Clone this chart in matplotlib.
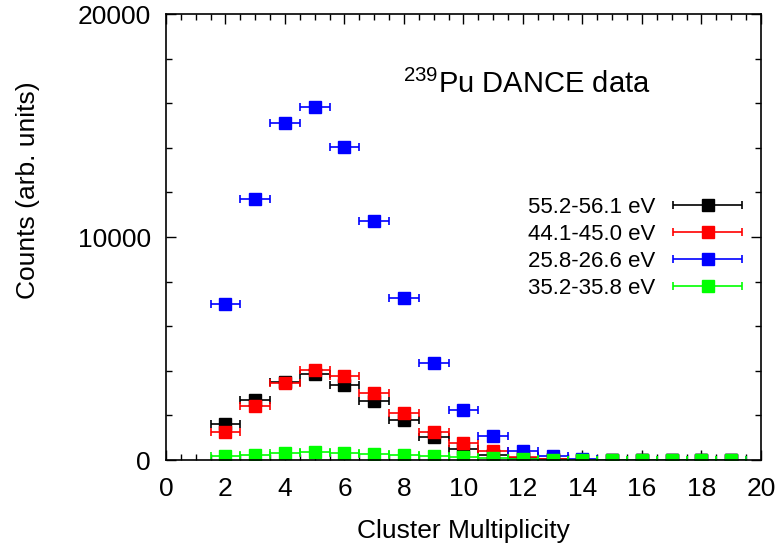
import matplotlib
matplotlib.use("Agg")
import matplotlib.pyplot as plt
from matplotlib.legend_handler import HandlerErrorbar
import numpy as np

plt.rcParams['font.family'] = ['Liberation Sans', 'DejaVu Sans']
plt.rcParams['mathtext.fontset'] = 'custom'
plt.rcParams['mathtext.rm'] = 'Liberation Sans'
plt.rcParams['mathtext.it'] = 'Liberation Sans:italic'

multiplicity = list(range(2, 20))
labels = ["55.2-56.1 eV", "44.1-45.0 eV", "25.8-26.6 eV", "35.2-35.8 eV"]
colors = ["#000000", "#ff0000", "#0000ff", "#00ff00"]
counts_55 = [1620, 2690, 3480, 3860, 3370, 2660, 1800, 1030, 490, 220, 100, 40, 10, 0, 0, 0, 0, 0]
counts_44 = [1260, 2420, 3470, 4040, 3780, 3020, 2100, 1260, 760, 400, 140, 50, 15, 0, 0, 0, 0, 0]
counts_25 = [7000, 11700, 15110, 15830, 14040, 10720, 7260, 4350, 2240, 1080, 400, 180, 50, 10, 0, 0, 0, 0]
counts_35 = [180, 224, 330, 370, 314, 290, 210, 165, 130, 80, 40, 20, 10, 5, 0, 0, 0, 0]
series = [counts_55, counts_44, counts_25, counts_35]
xerr_half = 0.5

fig = plt.figure(figsize=(7.77, 5.44), dpi=100)
ax = fig.add_axes([0.2136, 0.1544, 0.7658, 0.8198])

for vals, c, lab in zip(series, colors, labels):
    ax.errorbar(multiplicity, vals, xerr=xerr_half, fmt='s', color=c, ecolor=c,
                markersize=8, elinewidth=1.2, capsize=3, capthick=1.2, label=lab)

ax.set_xlim(0, 20)
ax.set_ylim(0, 20000)
ax.set_xticks(np.arange(0, 21, 2))
ax.set_yticks([0, 10000, 20000])
ax.set_xticks(np.arange(0, 20.01, 0.5), minor=True)
ax.set_yticks(np.arange(0, 20001, 2000), minor=True)
ax.tick_params(which='both', direction='in', top=True, right=True, labelsize=19, width=1)
ax.tick_params(which='major', length=7)
ax.tick_params(which='minor', length=4)
ax.tick_params(axis='x', which='major', pad=12.5)
ax.tick_params(axis='y', which='major', pad=11)
for s in ax.spines.values():
    s.set_linewidth(1.2)

ax.set_xlabel("Cluster Multiplicity", fontsize=19, labelpad=13)
ax.set_ylabel("Counts (arb. units)", fontsize=19, labelpad=27)
ax.yaxis.label.set_y(0.605)

ax.text(0.398, 0.823, r"$^{239}$Pu DANCE data", transform=ax.transAxes,
        fontsize=21, ha='left', va='baseline')

fs = 16
leg = ax.legend(loc='upper right', bbox_to_anchor=(0.970, 0.590), frameon=False,
                markerfirst=False, fontsize=fs, handlelength=3.2,
                labelspacing=0.27, handletextpad=0.75, borderaxespad=0.0,
                borderpad=0.0,
                handler_map={matplotlib.container.ErrorbarContainer:
                             HandlerErrorbar(xerr_size=1.55)})

fig.savefig("out.png", dpi=100)
